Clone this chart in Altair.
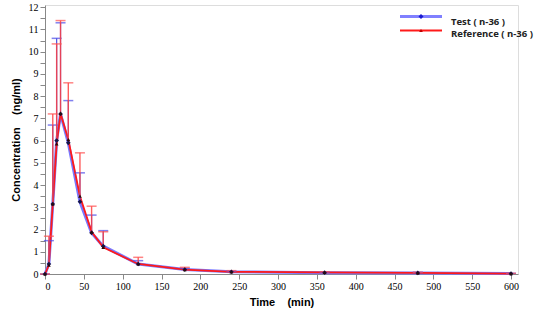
import altair as alt
import pandas as pd

times = [0, 5, 10, 15, 20, 30, 45, 60, 75, 120, 180, 240, 360, 480, 600]
test_mean = [0, 0.45, 3.15, 6.0, 7.2, 5.9, 3.25, 1.85, 1.25, 0.45, 0.2, 0.1, 0.06, 0.05, 0.02]
test_upper = [0, 1.5, 6.7, 10.6, 11.3, 7.8, 4.55, 2.65, 1.95, 0.6, 0.25, 0.12, 0.08, 0.07, 0.03]
ref_mean = [0, 0.4, 3.15, 5.85, 7.22, 6.05, 3.5, 1.9, 1.2, 0.45, 0.2, 0.1, 0.07, 0.05, 0.02]
ref_upper = [0, 1.7, 7.2, 10.35, 11.4, 8.6, 5.45, 3.05, 1.9, 0.75, 0.3, 0.15, 0.1, 0.08, 0.03]
series_names = ["Test", "Reference"]
legend_labels = ["Test ( n-36 )", "Reference ( n-36 )"]

rows = []
for name, means, uppers in [("Test", test_mean, test_upper), ("Reference", ref_mean, ref_upper)]:
    for t, m, u in zip(times, means, uppers):
        rows.append({"series": name, "time": t, "mean": m, "upper": u})
df = pd.DataFrame(rows)

xscale = alt.Scale(domain=[0, 609], nice=False, zero=False)
yscale = alt.Scale(domain=[0, 12.1], nice=False)

serif = "Times New Roman"

xaxis = alt.Axis(values=list(range(0, 601, 50)), title="Time\u00a0\u00a0\u00a0\u00a0(min)",
                 titlePadding=5, grid=False, labelFont=serif)
yaxis = alt.Axis(values=[i * 0.5 for i in range(25)],
                 labelExpr="datum.value % 1 == 0 ? format(datum.value, 'd') : ''",
                 title="Concentration\u00a0\u00a0\u00a0\u00a0(ng/ml)", titlePadding=7, grid=False,
                 labelFont=serif)

X = alt.X("time:Q", scale=xscale, axis=xaxis)
Ymean = alt.Y("mean:Q", scale=yscale, axis=yaxis)
Yup = alt.Y("upper:Q", scale=yscale, axis=yaxis)

base = alt.Chart(df)
test = base.transform_filter(alt.datum.series == "Test")
ref = base.transform_filter(alt.datum.series == "Reference")

blue_line = test.mark_line(color="#7878ff", strokeWidth=3).encode(x=X, y=Ymean)
red_line = ref.mark_line(color="#ff1a1a", strokeWidth=1.8).encode(x=X, y=Ymean)

blue_err = test.mark_rule(color="#5050e0", strokeWidth=1.2).encode(x=X, y=Ymean, y2="upper:Q")
blue_cap = test.mark_tick(color="#4a4ae8", orient="horizontal", size=10, thickness=1.5).encode(x=X, y=Yup)
red_err = ref.mark_rule(color="#ff4040", strokeWidth=1.4, opacity=0.85).encode(x=X, y=Ymean, y2="upper:Q")
red_cap = ref.mark_tick(color="#ff5050", orient="horizontal", size=10, thickness=1.5).encode(x=X, y=Yup)

blue_pts = test.mark_point(shape="diamond", filled=True, color="#15154a", size=22, opacity=1).encode(x=X, y=Ymean)
red_pts = ref.mark_point(shape="triangle-up", filled=True, color="#2a0a0a", size=14, opacity=1).encode(x=X, y=Ymean)

leg_t = alt.Chart(pd.DataFrame({"label": [legend_labels[0]]}))
leg_r = alt.Chart(pd.DataFrame({"label": [legend_labels[1]]}))

leg_layers = [
    leg_t.mark_rule(color="#8080ff", strokeWidth=3).encode(x=alt.value(355), x2=alt.value(397), y=alt.value(11.5)),
    leg_t.mark_point(shape="diamond", filled=True, color="#1a1ad0", size=25, opacity=1).encode(x=alt.value(376), y=alt.value(11.5)),
    leg_t.mark_text(align="left", baseline="middle", font="Open Sans", fontSize=9.5, fontWeight="bold", color="#222").encode(
        x=alt.value(406), y=alt.value(16.5), text="label:N"),
    leg_r.mark_rule(color="#ff1a1a", strokeWidth=2).encode(x=alt.value(355), x2=alt.value(397), y=alt.value(25.5)),
    leg_r.mark_point(shape="triangle-up", filled=True, color="#c00000", size=14, opacity=1).encode(x=alt.value(376), y=alt.value(25.5)),
    leg_r.mark_text(align="left", baseline="middle", font="Open Sans", fontSize=9.5, fontWeight="bold", color="#222").encode(
        x=alt.value(406), y=alt.value(28.5), text="label:N"),
]

chart = alt.layer(
    blue_line, red_line, blue_err, blue_cap, red_err, red_cap, blue_pts, red_pts, *leg_layers
).properties(
    width=473, height=269,
    autosize=alt.AutoSizeParams(type="none"),
    padding={"left": 45, "top": 5, "right": 22, "bottom": 45},
).configure_view(
    stroke="#555555", strokeWidth=1.5
).configure_axis(
    domainColor="#333333", domainWidth=1.5, tickColor="#333333", tickSize=4, tickWidth=1,
    labelFontSize=12.5, labelColor="#111111", labelPadding=2,
    titleFont="Open Sans", titleFontSize=10, titleFontWeight="bold", titleColor="#111111"
).configure(background="white")

chart.save("out.html", embed_options={"renderer": "svg", "actions": False})
